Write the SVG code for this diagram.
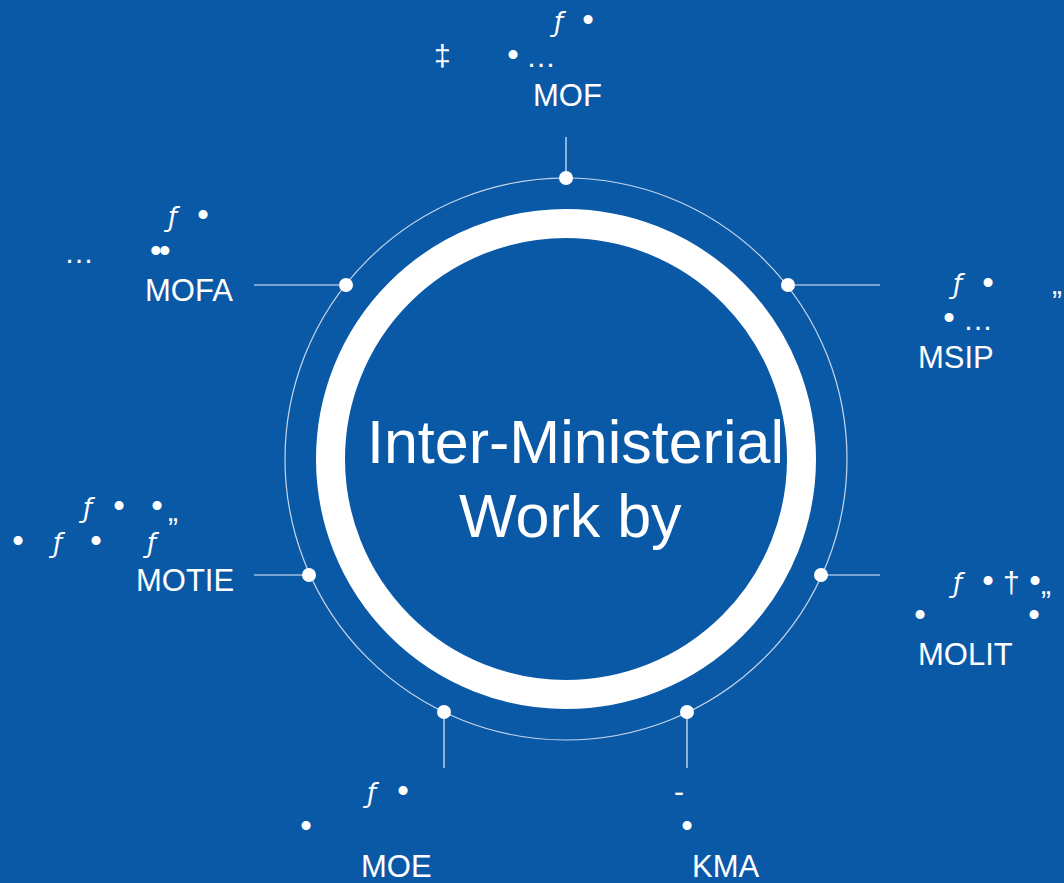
<svg xmlns="http://www.w3.org/2000/svg" width="1064" height="883" viewBox="0 0 1064 883">
<style>
.lbl{font-family:"Liberation Sans",Arial,sans-serif;font-size:31px;fill:#fff}
.g{font-family:"Liberation Sans",Arial,sans-serif;font-size:30px;fill:#fff}
.gi{font-family:"DejaVu Sans","Liberation Sans",sans-serif;font-style:italic;font-size:26px;fill:#fff}
.b{font-family:"Liberation Sans",Arial,sans-serif;font-size:33px;fill:#fff;text-anchor:middle}
.title{font-family:"Liberation Sans",Arial,sans-serif;font-size:61px;fill:#fff}
.lead{stroke:#e8eef8;stroke-width:1.2;fill:none}
.dot{fill:#fff}
</style>
<rect width="1064" height="883" fill="#0a59a7"/>
<g id="hub">
<circle cx="566" cy="459" r="281" fill="none" stroke="#c9d6ea" stroke-width="1.2"/>
<text class="title" x="367" y="463">Inter-Ministerial</text>
<text class="title" x="459" y="537">Work by</text>
<circle cx="566" cy="459" r="235.5" fill="none" stroke="#fff" stroke-width="29"/>
</g>
<g id="connectors">
<line class="lead" x1="566" y1="178" x2="566" y2="137"/>
<line class="lead" x1="346" y1="285" x2="254" y2="285"/>
<line class="lead" x1="788" y1="285" x2="880" y2="285"/>
<line class="lead" x1="309" y1="575" x2="254" y2="575"/>
<line class="lead" x1="821" y1="575" x2="880" y2="575"/>
<line class="lead" x1="444" y1="712" x2="444" y2="768"/>
<line class="lead" x1="687" y1="712" x2="687" y2="768"/>
<circle class="dot" cx="566" cy="178" r="7"/>
<circle class="dot" cx="346" cy="285" r="7"/>
<circle class="dot" cx="788" cy="285" r="7"/>
<circle class="dot" cx="309" cy="575" r="7"/>
<circle class="dot" cx="821" cy="575" r="7"/>
<circle class="dot" cx="444" cy="712" r="7"/>
<circle class="dot" cx="687" cy="712" r="7"/>
</g>
<g id="node-mof">
<text class="gi" x="554" y="31">ƒ</text>
<text class="b" x="588" y="31">•</text>
<text class="g" x="434" y="66">‡</text>
<text class="b" x="513" y="66">•</text>
<text class="g" x="526" y="67">…</text>
<text class="lbl" x="533" y="106">MOF</text>
</g>
<g id="node-mofa">
<text class="gi" x="168" y="226">ƒ</text>
<text class="b" x="203" y="226">•</text>
<text class="b" x="159" y="262" letter-spacing="-2.5">••</text>
<text class="g" x="64" y="263">…</text>
<text class="lbl" x="145" y="301">MOFA</text>
</g>
<g id="node-msip">
<text class="gi" x="953" y="293">ƒ</text>
<text class="b" x="988" y="294">•</text>
<text class="g" x="1052" y="294">„</text>
<text class="b" x="949" y="329">•</text>
<text class="g" x="963" y="330">…</text>
<text class="lbl" x="918" y="368">MSIP</text>
</g>
<g id="node-motie">
<text class="gi" x="83" y="517">ƒ</text>
<text class="b" x="119" y="517">•</text>
<text class="b" x="157" y="517">•</text>
<text class="g" x="168" y="521">„</text>
<text class="b" x="18" y="552">•</text>
<text class="gi" x="53" y="552">ƒ</text>
<text class="b" x="96" y="552">•</text>
<text class="gi" x="147" y="552">ƒ</text>
<text class="lbl" x="136" y="591">MOTIE</text>
</g>
<g id="node-molit">
<text class="gi" x="953" y="592">ƒ</text>
<text class="b" x="988" y="592">•</text>
<text class="g" x="1003" y="593">†</text>
<text class="b" x="1035" y="592">•</text>
<text class="g" x="1041" y="594">„</text>
<text class="b" x="920" y="626">•</text>
<text class="b" x="1034" y="626">•</text>
<text class="lbl" x="918" y="665">MOLIT</text>
</g>
<g id="node-moe">
<text class="gi" x="367" y="802">ƒ</text>
<text class="b" x="403" y="802">•</text>
<text class="b" x="306" y="837">•</text>
<text class="lbl" x="361" y="877">MOE</text>
</g>
<g id="node-kma">
<text class="g" x="674" y="802">-</text>
<text class="b" x="687" y="837">•</text>
<text class="lbl" x="692" y="877">KMA</text>
</g>
</svg>
